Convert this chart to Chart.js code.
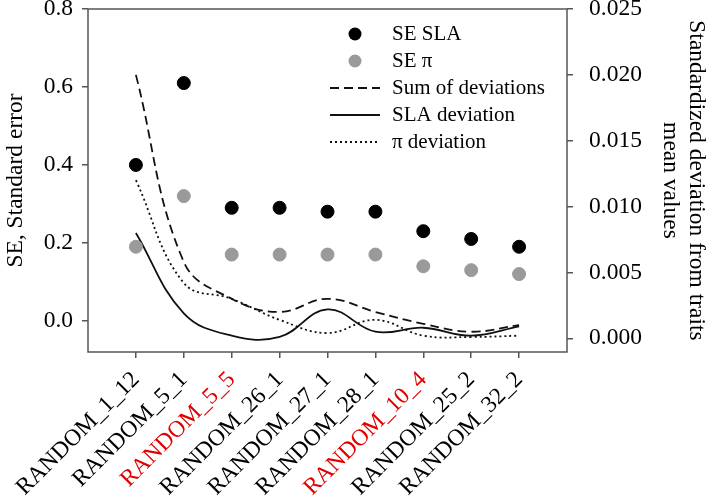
<!DOCTYPE html>
<html>
<head>
<meta charset="utf-8">
<script src="https://cdn.jsdelivr.net/npm/chart.js@4/dist/chart.umd.min.js"></script>
<style>
  html,body{margin:0;padding:0;background:#fff;}
  #wrap{width:709px;height:496px;}
</style>
</head>
<body>
<div id="wrap"><canvas id="chart"></canvas></div>
<script>
// --- Data ---
const categories = ['RANDOM_1_12','RANDOM_5_1','RANDOM_5_5','RANDOM_26_1','RANDOM_27_1','RANDOM_28_1','RANDOM_10_4','RANDOM_25_2','RANDOM_32_2'];
const redCategories = ['RANDOM_5_5','RANDOM_10_4'];
const seSLA = [0.40, 0.61, 0.29, 0.29, 0.28, 0.28, 0.23, 0.21, 0.19];
const sePi = [0.19, 0.32, 0.17, 0.17, 0.17, 0.17, 0.14, 0.13, 0.12];
const sumDev = [0.0200, 0.0058, 0.0030, 0.0020, 0.0030, 0.0020, 0.0011, 0.0005, 0.0010];
const slaDev = [0.0080, 0.0019, 0.0002, 0.0001, 0.0022, 0.0005, 0.0008, 0.0002, 0.0009];
const piDev = [0.0120, 0.0042, 0.0030, 0.0014, 0.0004, 0.0014, 0.0002, 0.0001, 0.0002];
const leftTicks = [0.0, 0.2, 0.4, 0.6, 0.8];
const rightTicks = [0.000, 0.005, 0.010, 0.015, 0.020, 0.025];

const FONT = "'Liberation Serif', 'Times New Roman', serif";
const AXIS = '#555';
const GRAY = '#9a9a9a';

// category i sits at x = i+1 on a 0..10 axis
const pts = arr => arr.map((v,i)=>({x:i+1, y:v}));

// --- Box round the plot ---
const boxPlugin = {
  id:'box',
  afterDraw(chart){
    const {ctx, chartArea:a} = chart;
    ctx.save();
    ctx.strokeStyle = AXIS; ctx.lineWidth = 1.5;
    ctx.strokeRect(a.left, a.top, a.right-a.left, a.bottom-a.top);
    ctx.restore();
  }
};

// --- Legend inside the plot ---
const legendPlugin = {
  id:'insideLegend',
  afterDraw(chart){
    const {ctx, chartArea:a} = chart;
    const mx = a.right - 212, lx0 = a.right - 237, lx1 = a.right - 187, tx = a.right - 175;
    let y = a.top + 25;
    ctx.save();
    ctx.font = `21px ${FONT}`;
    ctx.textBaseline = 'middle';
    ctx.fillStyle = '#000';
    chart.data.datasets.forEach(ds=>{
      if(ds.type==='scatter'){
        ctx.beginPath(); ctx.arc(mx, y, 6.5, 0, Math.PI*2);
        ctx.fillStyle = ds.backgroundColor; ctx.fill();
      } else {
        ctx.beginPath(); ctx.setLineDash(ds.borderDash||[]);
        ctx.strokeStyle = ds.borderColor; ctx.lineWidth = ds.borderWidth;
        ctx.moveTo(lx0, y); ctx.lineTo(lx1, y); ctx.stroke();
        ctx.setLineDash([]);
      }
      ctx.fillStyle = '#000';
      ctx.fillText(ds.label, tx, y);
      y += 27;
    });
    ctx.restore();
  }
};

const tickFont = {family:FONT, size:23.5};

new Chart(document.getElementById('chart'), {
  data:{
    datasets:[
      {type:'scatter', label:'SE SLA', data:pts(seSLA), yAxisID:'y', backgroundColor:'#000', borderColor:'#000', pointRadius:6.5, pointHoverRadius:6.5, order:1},
      {type:'scatter', label:'SE π', data:pts(sePi), yAxisID:'y', backgroundColor:GRAY, borderColor:GRAY, pointRadius:6.5, pointHoverRadius:6.5, order:2},
      {type:'line', label:'Sum of deviations', data:pts(sumDev), yAxisID:'y1', borderColor:'#111', borderWidth:1.8, borderDash:[9,5], pointRadius:0, tension:0.4, fill:false, order:3},
      {type:'line', label:'SLA deviation', data:pts(slaDev), yAxisID:'y1', borderColor:'#111', borderWidth:1.8, pointRadius:0, tension:0.4, fill:false, order:4},
      {type:'line', label:'π deviation', data:pts(piDev), yAxisID:'y1', borderColor:'#111', borderWidth:1.8, borderDash:[2,3], pointRadius:0, tension:0.4, fill:false, order:5}
    ]
  },
  options:{
    responsive:true, maintainAspectRatio:false, animation:false,
    layout:{padding:{top:9, left:0, right:0, bottom:0}},
    plugins:{legend:{display:false}, tooltip:{enabled:false}},
    scales:{
      x:{
        type:'linear', min:0, max:10,
        afterBuildTicks:s=>{ s.ticks = categories.map((c,i)=>({value:i+1})); },
        afterFit:s=>{ s.height = 144; s.paddingLeft = 0; s.paddingRight = 0; },
        border:{display:false},
        grid:{drawOnChartArea:false, drawTicks:true, tickLength:6, tickColor:AXIS, lineWidth:1.5},
        ticks:{
          autoSkip:false, minRotation:45, maxRotation:45, padding:8, font:tickFont,
          callback:v=>categories[v-1] || '',
          color:c=>redCategories.includes(categories[c.tick.value-1]) ? '#e00000' : '#000'
        }
      },
      y:{
        position:'left', min:-0.08, max:0.8,
        afterBuildTicks:s=>{ s.ticks = leftTicks.map(v=>({value:v})); },
        afterFit:s=>{ s.width = 88; s.paddingTop = 0; s.paddingBottom = 0; },
        border:{display:false},
        grid:{drawOnChartArea:false, drawTicks:true, tickLength:6, tickColor:AXIS, lineWidth:1.5},
        ticks:{font:tickFont, color:'#000', padding:9, callback:v=>v.toFixed(1)},
        title:{display:true, text:'SE, Standard error', font:tickFont, color:'#000', padding:{top:2}}
      },
      y1:{
        position:'right', min:-0.00104, max:0.025,
        afterBuildTicks:s=>{ s.ticks = rightTicks.map(v=>({value:v})); },
        afterFit:s=>{ s.width = 142; s.paddingTop = 0; s.paddingBottom = 0; },
        border:{display:false},
        grid:{drawOnChartArea:false, drawTicks:true, tickLength:6, tickColor:AXIS, lineWidth:1.5},
        ticks:{font:tickFont, color:'#000', padding:16, callback:v=>v.toFixed(3)},
        title:{display:true, text:['Standardized deviation from traits','mean values'], font:{family:FONT, size:23.5, lineHeight:1.1}, color:'#000', padding:{top:0}}
      }
    }
  },
  plugins:[boxPlugin, legendPlugin]
});
</script>
</body>
</html>
